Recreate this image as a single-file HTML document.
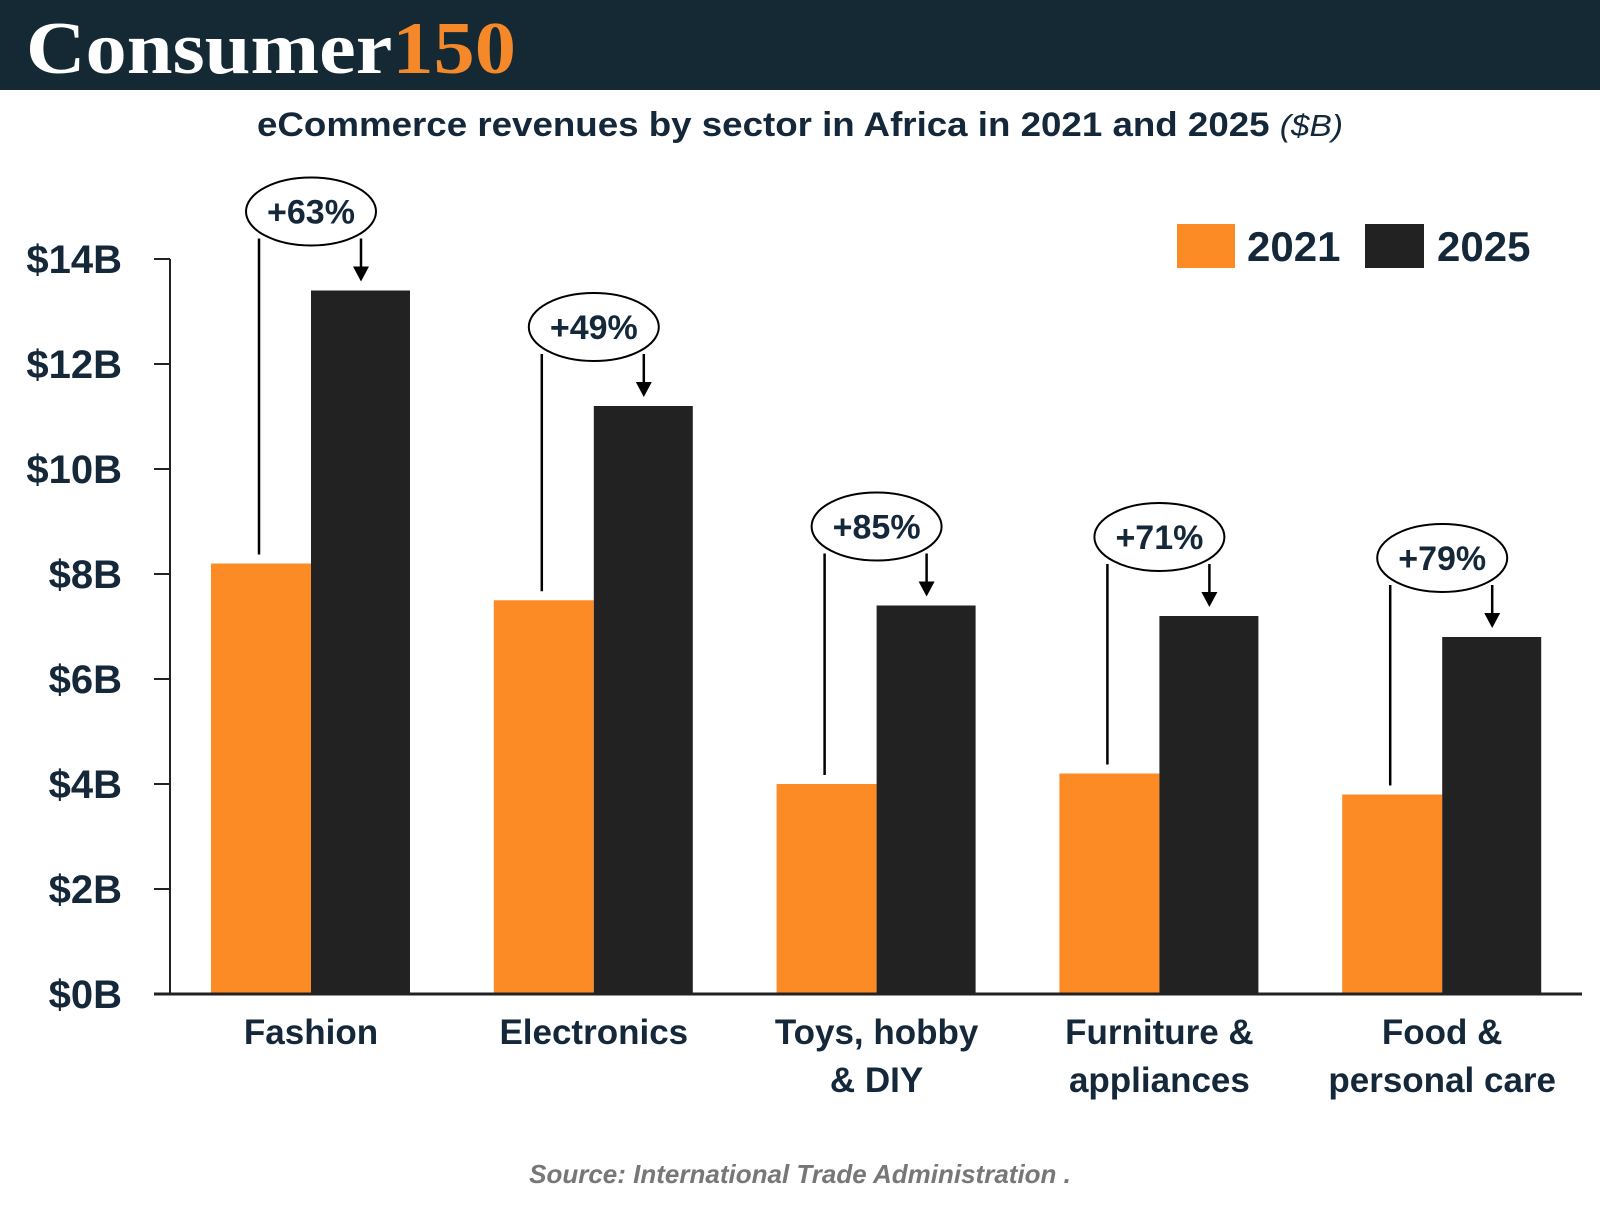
<!DOCTYPE html>
<html><head><meta charset="utf-8"><style>
body{margin:0;width:1600px;height:1200px;background:#fff;overflow:hidden;font-family:"Liberation Sans",sans-serif}
</style></head><body>
<svg width="1600" height="1200" xmlns="http://www.w3.org/2000/svg" id="svg">
<rect x="0" y="0" width="1600" height="90" fill="#152935"/>
<text x="26" y="73" font-family="Liberation Serif,serif" font-weight="bold" font-size="74" fill="#fff" textLength="490" lengthAdjust="spacingAndGlyphs">Consumer<tspan fill="#f5892a">150</tspan></text>
<text x="257" y="136" font-weight="bold" font-size="34" fill="#14283a" textLength="1086" lengthAdjust="spacingAndGlyphs">eCommerce revenues by sector in Africa in 2021 and 2025 <tspan font-weight="normal" font-style="italic" font-size="31">  ($B)</tspan></text>
<g>
<rect x="1177" y="224" width="58" height="44" fill="#fd8b25"/>
<text x="1247" y="261" font-weight="bold" font-size="42" fill="#14283a">2021</text>
<rect x="1365" y="224" width="59" height="44" fill="#222"/>
<text x="1437" y="261" font-weight="bold" font-size="42" fill="#14283a">2025</text>
</g>
<g id="plot"></g>
<text x="800" y="1183" text-anchor="middle" font-style="italic" font-weight="bold" font-size="26" fill="#777">Source: International Trade Administration .</text>
</svg>
<script>
const categories=[["Fashion"],["Electronics"],["Toys, hobby","& DIY"],["Furniture &","appliances"],["Food &","personal care"]];
const values2021=[8.2,7.5,4.0,4.2,3.8];
const values2025=[13.4,11.2,7.4,7.2,6.8];
const growthLabels=["+63%","+49%","+85%","+71%","+79%"];
const yTicks=[0,2,4,6,8,10,12,14];
const yTickLabels=["$0B","$2B","$4B","$6B","$8B","$10B","$12B","$14B"];
const NS="http://www.w3.org/2000/svg";
const g=document.getElementById('plot');
const y0=994,pxPer=52.5;
const y=v=>y0-v*pxPer;
const cx=i=>311+i*282.8;
const bw=100;
function mk(t,a,p){const e=document.createElementNS(NS,t);for(const k in a)e.setAttribute(k,a[k]);(p||g).appendChild(e);return e;}
let ax=mk('line',{x1:170,y1:y(14),x2:170,y2:y0,stroke:'#222','stroke-width':2});


yTicks.forEach((v,i)=>{
 const t=mk('line',{x1:154,y1:y(v),x2:170,y2:y(v),stroke:'#222','stroke-width':2});
 
 
 const l=mk('text',{x:122,y:y(v)+14,'text-anchor':'end','font-weight':'bold','font-size':40,fill:'#14283a'});
 l.textContent=yTickLabels[i];
 
 
});
categories.forEach((c,i)=>{
 const x=cx(i);
 const b1=mk('rect',{x:x-bw,y:y(values2021[i]),width:bw,height:y0-y(values2021[i]),fill:'#fd8b25'});
 
 
 const b2=mk('rect',{x:x,y:y(values2025[i]),width:bw-1,height:y0-y(values2025[i]),fill:'#222'});
 
 
 const ey=y(values2025[i])-79;
 const ln=mk('line',{x1:x-52,y1:ey+27,x2:x-52,y2:y(values2021[i])-9,stroke:'#000','stroke-width':2.5});
 
 
 const ar=mk('line',{x1:x+50,y1:ey+27,x2:x+50,y2:y(values2025[i])-22,stroke:'#000','stroke-width':2.5});
 
 
 const ah=mk('polygon',{points:`${x+42},${y(values2025[i])-24} ${x+58},${y(values2025[i])-24} ${x+50},${y(values2025[i])-9}`,fill:'#000'});
 
 
 const el=mk('ellipse',{cx:x,cy:ey,rx:65,ry:34,fill:'#fff',stroke:'#000','stroke-width':2});
 
 
 const gt=mk('text',{x:x,y:ey+12,'text-anchor':'middle','font-weight':'bold','font-size':34,fill:'#14283a'});
 gt.textContent=growthLabels[i];
 
 
 c.forEach((line,j)=>{
  const t=mk('text',{x:x,y:1044+j*48,'text-anchor':'middle','font-weight':'bold','font-size':35,fill:'#14283a'});
  t.textContent=line;
  
  
 });
});
const base=mk('line',{x1:154,y1:y0,x2:1582,y2:y0,stroke:'#222','stroke-width':3});


</script>
</body></html>
